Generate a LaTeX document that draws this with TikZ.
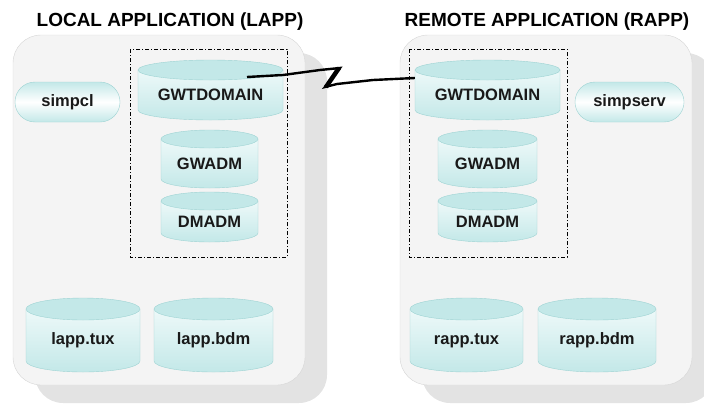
\documentclass[tikz,border=0pt]{standalone}
\usepackage{fontspec}
\setmainfont{Liberation Sans}
\usetikzlibrary{calc}
\usetikzlibrary{positioning}
\usetikzlibrary{shapes.misc}

\definecolor{tealend}{HTML}{C3E8E8}
\definecolor{tealpale}{HTML}{EEF9F9}
\definecolor{tealline}{HTML}{9ED3D3}
\definecolor{panelfill}{HTML}{F4F4F4}
\definecolor{panelline}{HTML}{D6D6D6}
\definecolor{panelshadow}{HTML}{E3E3E3}

\tikzset{
  dbbody/.style={draw=tealline, top color=tealpale, bottom color=tealend},
  dbend/.style={draw=tealline, fill=tealend},
  dbarea/.style={inner sep=0pt},
  dbtext/.style={inner sep=0pt, text=black!90, font=\bfseries\fontsize{16.5}{18}\selectfont},
  proc/.style={rounded rectangle, draw=tealline, top color=tealend, bottom color=tealend,
    middle color=white, inner sep=0pt, minimum height=40pt,
    text=black!90, font=\bfseries\fontsize{16.5}{18}\selectfont},
  apptitle/.style={font=\bfseries\fontsize{19}{22}\selectfont},
  gwbox/.style={thin, dash pattern=on 4pt off 2pt on 1pt off 2pt},
  bolt/.style={line width=2.4pt, line join=miter}
}

% name, x, y, width, height, end radius, label
\newcommand{\dbnode}[7]{%
  \path [dbbody] (#2-#4/2,#3-#5/2+#6) -- (#2-#4/2,#3+#5/2-#6)
    arc [start angle=180, end angle=0, x radius=#4/2, y radius=#6]
    -- (#2+#4/2,#3-#5/2+#6) -- cycle;
  \path [dbend] (#2,#3-#5/2+#6) ellipse [x radius=#4/2, y radius=#6];
  \node [dbarea, minimum width=#4, minimum height=#5] (#1) at (#2,#3) {};
  \node [dbtext] (#1-text) at (#2,#3+#6/2) {#7};
}

\begin{document}
\begin{tikzpicture}[x=1pt, y=-1pt]
  \useasboundingbox (0,0) rectangle (704,405);
  \clip (0,0) rectangle (704,405);

  % application panels with their shadows
  \foreach \px in {13, 400}{
    \fill [panelshadow, rounded corners=28pt] (\px+22,53) rectangle (\px+314,403);
    \draw [panelline, fill=panelfill, rounded corners=28pt] (\px,35) rectangle (\px+292,385);
  }

  \node [apptitle] (ltitle) at (170,22) {LOCAL APPLICATION (LAPP)};
  \node [apptitle] (rtitle) at (547,22) {REMOTE APPLICATION (RAPP)};

  % domain gateway groups
  \draw [gwbox] (130,49) rectangle (287,257);
  \draw [gwbox] (409,49) rectangle (567,257);

  % local side
  \dbnode{ldom}{210.5}{90}{145}{60}{10}{GWTDOMAIN}
  \dbnode{lgw}{209.5}{159}{97}{58}{9}{GWADM}
  \dbnode{ldm}{209.5}{217}{97}{50}{9}{DMADM}
  \node [proc, minimum width=105pt] (lcl) at (67.5,102) {simpcl};
  \dbnode{ltux}{83}{335}{114}{74}{11}{lapp.tux}
  \dbnode{lbdm}{213.5}{335}{119}{74}{11}{lapp.bdm}

  % remote side
  \dbnode{rdom}{487.5}{90}{145}{60}{10}{GWTDOMAIN}
  \dbnode{rgw}{487.5}{159}{99}{58}{9}{GWADM}
  \dbnode{rdm}{487.5}{217}{99}{50}{9}{DMADM}
  \node [proc, minimum width=109pt] (rsrv) at (629.5,102) {simpserv};
  \dbnode{rtux}{466.5}{335}{113}{74}{11}{rapp.tux}
  \dbnode{rbdm}{597}{335}{118}{74}{11}{rapp.bdm}

  % network link
  \draw [bolt] ($(ldom.center)+(36.5,-13)$) -- ++(36,-2) -- ++(37,-5) -- ++(20,-2) coordinate (zt)
    -- ++(-15,19) coordinate (zb) -- ++(12,-3) -- ++(36,-4) -- ([yshift=12pt]rdom.west);
  \draw [line width=4.5pt] ([xshift=-1pt]zt) -- ([xshift=1pt]zb);
\end{tikzpicture}
\end{document}
